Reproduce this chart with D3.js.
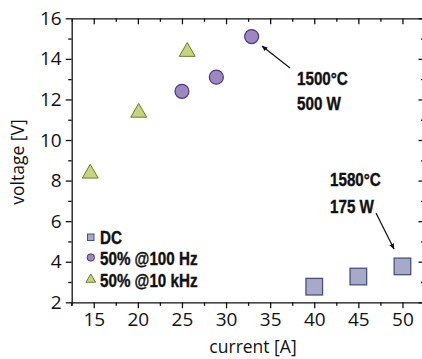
<!DOCTYPE html>
<html>
<head>
<meta charset="utf-8">
<script src="https://cdn.jsdelivr.net/npm/d3@7"></script>
<style>
  body { margin: 0; background: #fff; }
  svg { display: block; }
</style>
</head>
<body>
<div id="wrapper"></div>
<script>
// data
const dcCurrent = [40, 45, 50]
const dcVoltage = [2.77, 3.27, 3.77]
const hz100Current = [25, 28.9, 32.9]
const hz100Voltage = [12.4, 13.1, 15.1]
const khz10Current = [14.6, 20.1, 25.6]
const khz10Voltage = [8.4, 11.4, 14.4]
const xTicks = [15, 20, 25, 30, 35, 40, 45, 50]
const yTicks = [2, 4, 6, 8, 10, 12, 14, 16]
const legendLabels = ['DC', '50% @100 Hz', '50% @10 kHz']

const W = 422, H = 359
const plot = { left: 71.7, right: 424.5, top: 18.3, bottom: 302.3 }
const tickFont = '"Open Sans", sans-serif'
const boldFont = '"Liberation Sans", Arial, sans-serif'
const squeeze = 0.8   // fake a condensed bold face

let svg = d3.select("#wrapper")
    .append("svg")
    .attr("width", W)
    .attr("height", H)

let x = d3.scaleLinear().domain([12.5, 52.5]).range([plot.left, plot.right])
let y = d3.scaleLinear().domain([2, 16]).range([plot.bottom, plot.top])

const minorX = d3.range(12.5, 52.6, 2.5).filter(d => d % 5 !== 0)
const minorY = d3.range(3, 16, 2)

// bottom axis, ticks outward
svg.append("g")
    .attr("transform", `translate(0,${plot.bottom})`)
    .call(d3.axisBottom(x).tickValues(xTicks).tickSize(6).tickSizeOuter(0).tickPadding(4))
    .call(g => g.selectAll("text").attr("font-family", tickFont).attr("font-size", 19).attr("fill", "#111"))
svg.append("g")
    .attr("transform", `translate(0,${plot.bottom})`)
    .call(d3.axisBottom(x).tickValues(minorX).tickSize(3.5).tickFormat("").tickSizeOuter(0))
    .call(g => g.select(".domain").remove())

// top axis, ticks inward
svg.append("g")
    .attr("transform", `translate(0,${plot.top})`)
    .call(d3.axisBottom(x).tickValues(xTicks).tickSize(6).tickFormat("").tickSizeOuter(0))
svg.append("g")
    .attr("transform", `translate(0,${plot.top})`)
    .call(d3.axisBottom(x).tickValues(minorX).tickSize(3.5).tickFormat("").tickSizeOuter(0))
    .call(g => g.select(".domain").remove())

// left axis, ticks outward
svg.append("g")
    .attr("transform", `translate(${plot.left},0)`)
    .call(d3.axisLeft(y).tickValues(yTicks).tickSize(6).tickSizeOuter(0).tickPadding(4))
    .call(g => g.selectAll("text").attr("font-family", tickFont).attr("font-size", 19).attr("fill", "#111"))
svg.append("g")
    .attr("transform", `translate(${plot.left},0)`)
    .call(d3.axisLeft(y).tickValues(minorY).tickSize(3.5).tickFormat("").tickSizeOuter(0))
    .call(g => g.select(".domain").remove())

// right axis, ticks inward
svg.append("g")
    .attr("transform", `translate(${plot.right},0)`)
    .call(d3.axisLeft(y).tickValues(yTicks).tickSize(6).tickFormat("").tickSizeOuter(0))
svg.append("g")
    .attr("transform", `translate(${plot.right},0)`)
    .call(d3.axisLeft(y).tickValues(minorY).tickSize(3.5).tickFormat("").tickSizeOuter(0))
    .call(g => g.select(".domain").remove())

// extend left axis a bit below the bottom axis
svg.append("line")
    .attr("x1", plot.left).attr("x2", plot.left)
    .attr("y1", plot.bottom).attr("y2", plot.bottom + 3.5)
    .attr("stroke", "#000")

svg.selectAll(".domain, .tick line").attr("stroke", "#111").attr("stroke-width", 1.3)

// axis titles
svg.append("text")
    .attr("x", 253).attr("y", 353)
    .attr("text-anchor", "middle")
    .attr("font-family", tickFont).attr("font-size", 17.5).attr("fill", "#111")
    .text("current [A]")
svg.append("text")
    .attr("transform", "translate(24,162) rotate(-90)")
    .attr("text-anchor", "middle")
    .attr("font-family", tickFont).attr("font-size", 17.5).attr("fill", "#111")
    .text("voltage [V]")

const sq = { fill: "#a6aac8", stroke: "#46527e" }
const ci = { fill: "#9c87c0", stroke: "#4e3585" }
const tr = { fill: "#c6d47c", stroke: "#6e7b2c" }
const triSym = d3.symbol().type(d3.symbolTriangle)

// DC squares
svg.append("g").selectAll("rect")
    .data(d3.zip(dcCurrent, dcVoltage))
    .enter()
    .append("rect")
    .attr("x", d => x(d[0]) - 8.3)
    .attr("y", d => y(d[1]) - 8.3)
    .attr("width", 16.6).attr("height", 16.6)
    .attr("fill", sq.fill).attr("stroke", sq.stroke).attr("stroke-width", 1.3)

// 100 Hz circles
svg.append("g").selectAll("circle")
    .data(d3.zip(hz100Current, hz100Voltage))
    .enter()
    .append("circle")
    .attr("cx", d => x(d[0]))
    .attr("cy", d => y(d[1]))
    .attr("r", 7)
    .attr("fill", ci.fill).attr("stroke", ci.stroke).attr("stroke-width", 1.2)

// 10 kHz triangles
svg.append("g").selectAll("path")
    .data(d3.zip(khz10Current, khz10Voltage))
    .enter()
    .append("path")
    .attr("d", triSym.size(110))
    .attr("transform", d => `translate(${x(d[0])},${y(d[1]) + 1})`)
    .attr("fill", tr.fill).attr("stroke", tr.stroke).attr("stroke-width", 1)

// annotations
svg.append("defs").append("marker")
    .attr("id", "arrow")
    .attr("viewBox", "0 0 10 10")
    .attr("refX", 9).attr("refY", 5)
    .attr("markerWidth", 5).attr("markerHeight", 5)
    .attr("orient", "auto")
    .append("path")
    .attr("d", "M0,1 L10,5 L0,9 Z")
    .attr("fill", "#111")

svg.append("line")
    .attr("x1", 290).attr("y1", 68)
    .attr("x2", 262).attr("y2", 46)
    .attr("stroke", "#111").attr("stroke-width", 1.2)
    .attr("marker-end", "url(#arrow)")
svg.append("line")
    .attr("x1", 376).attr("y1", 213)
    .attr("x2", 394).attr("y2", 249)
    .attr("stroke", "#111").attr("stroke-width", 1.2)
    .attr("marker-end", "url(#arrow)")

const notes = [
    { t: "1500°C", x: 297, y: 85 },
    { t: "500 W", x: 297, y: 110 },
    { t: "1580°C", x: 330, y: 186 },
    { t: "175 W", x: 330, y: 213 }
]
svg.append("g").selectAll("text")
    .data(notes)
    .enter()
    .append("text")
    .attr("transform", d => `translate(${d.x},${d.y}) scale(${squeeze},1)`)
    .attr("font-family", boldFont).attr("font-weight", "bold")
    .attr("font-size", 19).attr("fill", "#111")
    .attr("stroke", "#111").attr("stroke-width", 0.4)
    .text(d => d.t)

// legend
let legend = svg.append("g")
legend.append("rect")
    .attr("x", 87.5).attr("y", 234).attr("width", 6.5).attr("height", 6.5)
    .attr("fill", sq.fill).attr("stroke", sq.stroke).attr("stroke-width", 1)
legend.append("circle")
    .attr("cx", 90.8).attr("cy", 257.5).attr("r", 3.7)
    .attr("fill", ci.fill).attr("stroke", ci.stroke).attr("stroke-width", 1)
legend.append("path")
    .attr("d", d3.symbol().type(d3.symbolTriangle).size(40)())
    .attr("transform", "translate(90.8,279.5)")
    .attr("fill", tr.fill).attr("stroke", tr.stroke).attr("stroke-width", 1)
legend.selectAll("text")
    .data(legendLabels)
    .enter()
    .append("text")
    .attr("transform", (d, i) => `translate(100,${244 + i * 21.3}) scale(${squeeze},1)`)
    .attr("font-family", boldFont).attr("font-weight", "bold")
    .attr("font-size", 19).attr("fill", "#111")
    .attr("stroke", "#111").attr("stroke-width", 0.4)
    .text(d => d)
</script>
</body>
</html>
